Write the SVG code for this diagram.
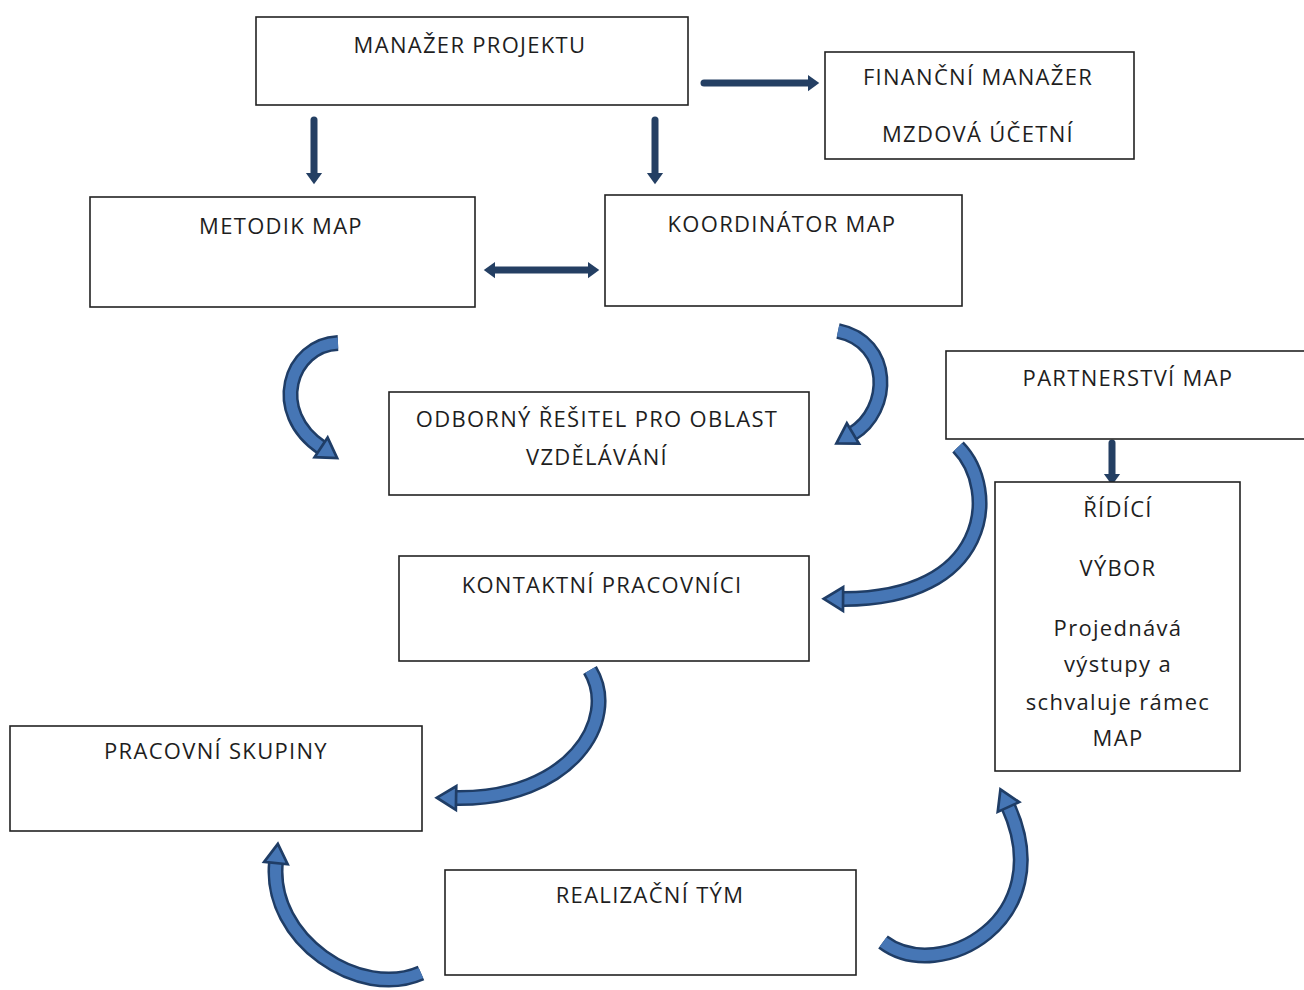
<svg xmlns="http://www.w3.org/2000/svg" width="1304" height="990" viewBox="0 0 1304 990">
<defs>
<style>
.box{fill:#fff;stroke:#222;stroke-width:1.6}
.t{font-family:"Open Sans","Liberation Sans",sans-serif;font-size:22px;fill:#1e1e1e;text-anchor:middle;letter-spacing:1.3px}
.st{fill:none;stroke:#243f63;stroke-width:7;stroke-linecap:round}
.bo{fill:none;stroke:#1f3d66;stroke-width:16;stroke-linecap:butt}
.bi{fill:none;stroke:#4676b5;stroke-width:11;stroke-linecap:butt}
</style>
<marker id="sh" markerUnits="userSpaceOnUse" markerWidth="20" markerHeight="20" viewBox="-2 -8 14 16" refX="0" refY="0" orient="auto-start-reverse" overflow="visible">
<path d="M0,-6.5 L9,0 L0,6.5 Z" fill="#243f63"/>
</marker>
<marker id="ch" markerUnits="userSpaceOnUse" markerWidth="30" markerHeight="30" viewBox="-4 -14 26 28" refX="0" refY="0" orient="auto" overflow="visible">
<path d="M-1,-11 L17,0 L-1,11 Z" fill="#4676b5" stroke="#1f3d66" stroke-width="2.5" stroke-linejoin="miter"/>
</marker>
</defs>
<rect width="1304" height="990" fill="#fff"/>

<g id="connectors">
<line class="st" x1="704" y1="83" x2="808" y2="83" marker-end="url(#sh)"/>
<line class="st" x1="314" y1="120" x2="314" y2="173" marker-end="url(#sh)"/>
<line class="st" x1="655" y1="120" x2="655" y2="173" marker-end="url(#sh)"/>
<line class="st" x1="495" y1="270" x2="588" y2="270" marker-start="url(#sh)" marker-end="url(#sh)"/>
<line class="st" x1="1112" y1="443" x2="1112" y2="474" marker-end="url(#sh)"/>

<path class="bo" d="M338,343 C290,345 268,412 322,448"/>
<path class="bi" d="M338,343 C290,345 268,412 322,448" marker-end="url(#ch)"/>

<path class="bo" d="M838,331 C892,342 892,410 852,434"/>
<path class="bi" d="M838,331 C892,342 892,410 852,434" marker-end="url(#ch)"/>

<path class="bo" d="M958,447 C1000,490 990,600 842,599"/>
<path class="bi" d="M958,447 C1000,490 990,600 842,599" marker-end="url(#ch)"/>

<path class="bo" d="M590,670 C620,720 570,800 455,798"/>
<path class="bi" d="M590,670 C620,720 570,800 455,798" marker-end="url(#ch)"/>

<path class="bo" d="M421,973 C360,1000 268,940 276,862"/>
<path class="bi" d="M421,973 C360,1000 268,940 276,862" marker-end="url(#ch)"/>

<path class="bo" d="M883,942 C940,985 1060,920 1008,806"/>
<path class="bi" d="M883,942 C940,985 1060,920 1008,806" marker-end="url(#ch)"/>
</g>

<g id="manazer-projektu">
<rect class="box" x="256" y="17" width="432" height="88"/>
<text class="t" x="470" y="53">MANAŽER PROJEKTU</text>
</g>
<g id="financni-manazer">
<rect class="box" x="825" y="52" width="309" height="107"/>
<text class="t" x="978" y="85">FINANČNÍ MANAŽER</text>
<text class="t" x="978" y="142">MZDOVÁ ÚČETNÍ</text>
</g>
<g id="metodik-map">
<rect class="box" x="90" y="197" width="385" height="110"/>
<text class="t" x="281" y="234">METODIK MAP</text>
</g>
<g id="koordinator-map">
<rect class="box" x="605" y="195" width="357" height="111"/>
<text class="t" x="782" y="232">KOORDINÁTOR MAP</text>
</g>
<g id="odborny-resitel">
<rect class="box" x="389" y="392" width="420" height="103"/>
<text class="t" x="597" y="427">ODBORNÝ ŘEŠITEL PRO OBLAST</text>
<text class="t" x="597" y="465">VZDĚLÁVÁNÍ</text>
</g>
<g id="kontaktni-pracovnici">
<rect class="box" x="399" y="556" width="410" height="105"/>
<text class="t" x="602" y="593">KONTAKTNÍ PRACOVNÍCI</text>
</g>
<g id="partnerstvi-map">
<rect class="box" x="946" y="351" width="370" height="88"/>
<text class="t" x="1128" y="386">PARTNERSTVÍ MAP</text>
</g>
<g id="ridici-vybor">
<rect class="box" x="995" y="482" width="245" height="289"/>
<text class="t" x="1118" y="517">ŘÍDÍCÍ</text>
<text class="t" x="1118" y="576">VÝBOR</text>
<text class="t" x="1118" y="636">Projednává</text>
<text class="t" x="1118" y="672">výstupy a</text>
<text class="t" x="1118" y="710">schvaluje rámec</text>
<text class="t" x="1118" y="746">MAP</text>
</g>
<g id="pracovni-skupiny">
<rect class="box" x="10" y="726" width="412" height="105"/>
<text class="t" x="216" y="759">PRACOVNÍ SKUPINY</text>
</g>
<g id="realizacni-tym">
<rect class="box" x="445" y="870" width="411" height="105"/>
<text class="t" x="650" y="903">REALIZAČNÍ TÝM</text>
</g>
</svg>
